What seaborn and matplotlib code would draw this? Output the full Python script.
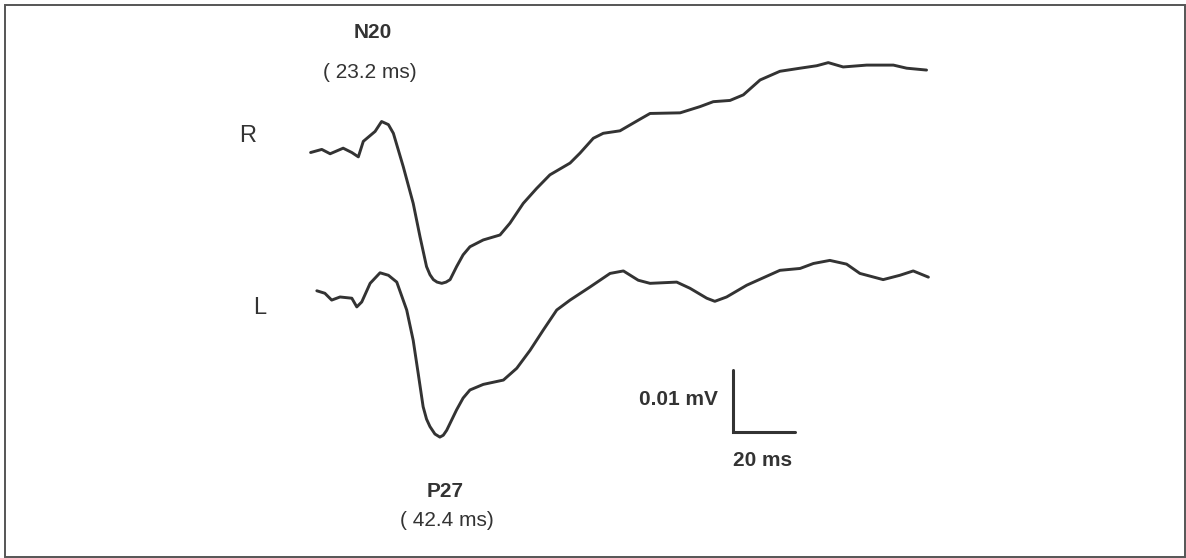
import numpy as np
import pandas as pd
import matplotlib
matplotlib.use("Agg")
import matplotlib.pyplot as plt
from matplotlib.patches import Rectangle
import seaborn as sns

# ---- data (time in ms, amplitude in µV) ----
r_time = [0.2, 3.8, 6.5, 10.7, 13.5, 15.6, 17.2, 21.0, 23.1, 25.3, 26.9, 30.1, 33.3,
          35.5, 37.6, 38.7, 39.8, 41.0, 42.5, 43.9, 45.2, 47.3, 49.4, 51.6, 55.9, 61.3,
          64.5, 68.8, 73.1, 77.4, 83.9, 87.1, 91.4, 94.6, 100.0, 106.2, 109.7, 119.4,
          125.8, 130.1, 135.5, 139.8, 145.2, 151.6, 158.1, 163.5, 167.2, 172.0, 179.6,
          188.2, 192.5, 198.9]
r_amp = [-0.1, 0.4, -0.3, 0.6, -0.1, -0.8, 1.7, 3.3, 4.9, 4.4, 3.0, -2.4, -8.3,
         -13.7, -18.5, -19.8, -20.6, -21.0, -21.2, -21.0, -20.6, -18.5, -16.6, -15.3, -14.2, -13.4,
         -11.5, -8.3, -5.9, -3.7, -1.8, -0.2, 2.2, 3.0, 3.4, 5.2, 6.2, 6.3,
         7.3, 8.1, 8.3, 9.2, 11.6, 13.0, 13.5, 13.9, 14.4, 13.7, 14.0,
         14.0, 13.5, 13.2]

l_time = [2.2, 4.8, 7.0, 9.7, 13.5, 15.1, 16.7, 19.4, 22.6, 25.3, 28.0, 31.2, 33.3,
          34.9, 36.5, 37.6, 38.7, 40.3, 41.9, 43.0, 44.1, 47.3, 49.4, 51.6, 55.9, 62.4,
          66.7, 71.0, 75.3, 79.6, 83.9, 90.3, 96.8, 101.1, 105.9, 109.7, 118.3, 122.6,
          128.0, 130.6, 134.4, 140.9, 151.6, 158.1, 162.4, 167.7, 173.1, 177.4, 184.9,
          190.3, 194.6, 199.5]
l_amp = [0.7, 0.3, -0.8, -0.3, -0.5, -1.9, -1.1, 1.9, 3.6, 3.2, 2.1, -2.4, -7.3,
         -12.6, -18.0, -20.0, -21.2, -22.4, -22.9, -22.6, -21.8, -18.5, -16.6, -15.3, -14.4, -13.7,
         -11.8, -8.9, -5.6, -2.4, -0.8, 1.3, 3.5, 3.9, 2.4, 1.9, 2.1, 1.1,
         -0.5, -1.0, -0.3, 1.6, 4.0, 4.3, 5.1, 5.6, 5.0, 3.5, 2.5,
         3.2, 3.9, 2.9]

channels = ["R", "L"]
peak_names = ["N20", "P27"]
peak_latencies = ["( 23.2 ms)", "( 42.4 ms)"]
scale_amp_label = "0.01 mV"
scale_time_label = "20 ms"
scale_time = 20   # ms
scale_amp = 10    # µV

# ---- layout ----
offsets = {"R": 65.5, "L": 42.4}
INK = "#333333"

df = pd.concat([
    pd.DataFrame({"time": r_time, "amp": np.array(r_amp) + offsets["R"], "ch": "R"}),
    pd.DataFrame({"time": l_time, "amp": np.array(l_amp) + offsets["L"], "ch": "L"}),
])

sns.set_theme(style="white")
plt.rcParams["font.family"] = ["Liberation Sans", "DejaVu Sans"]

fig = plt.figure(figsize=(11.86, 5.58), dpi=100)
ax = fig.add_axes([0, 0, 1, 1])
sns.lineplot(data=df, x="time", y="amp", units="ch", estimator=None, sort=False,
             color=INK, linewidth=2.1, ax=ax, legend=False)

ax.set_xlim(-100, 282.6)
ax.set_ylim(0, 90)
ax.axis("off")

# border frame
ax.add_patch(Rectangle((5 / 1186, 1 / 558), 1180 / 1186, 552 / 558,
                       transform=ax.transAxes, fill=False, edgecolor="#555555",
                       linewidth=1.4, clip_on=False))

# channel labels
ax.text(-20.0, 68.1, channels[0], fontsize=17, color=INK, ha="center", va="center")
ax.text(-16.1, 40.3, channels[1], fontsize=17, color=INK, ha="center", va="center")

# peak annotations
ax.text(20.2, 84.8, peak_names[0], fontsize=15, fontweight="bold", color=INK, ha="center", va="center")
ax.text(19.4, 78.3, peak_latencies[0], fontsize=15, color=INK, ha="center", va="center")
ax.text(43.5, 10.7, peak_names[1], fontsize=15, fontweight="bold", color=INK, ha="center", va="center")
ax.text(44.0, 6.0, peak_latencies[1], fontsize=15, color=INK, ha="center", va="center")

# scale bar
x0, y0 = 136.5, 20.3
ax.plot([x0, x0, x0 + scale_time], [y0 + scale_amp, y0, y0], color=INK, linewidth=2.2,
        solid_joinstyle="miter")
ax.text(131.6, 25.6, scale_amp_label, fontsize=15, fontweight="bold", color=INK,
        ha="right", va="center")
ax.text(146.1, 15.8, scale_time_label, fontsize=15, fontweight="bold", color=INK,
        ha="center", va="center")

fig.savefig("out.png", dpi=100)
